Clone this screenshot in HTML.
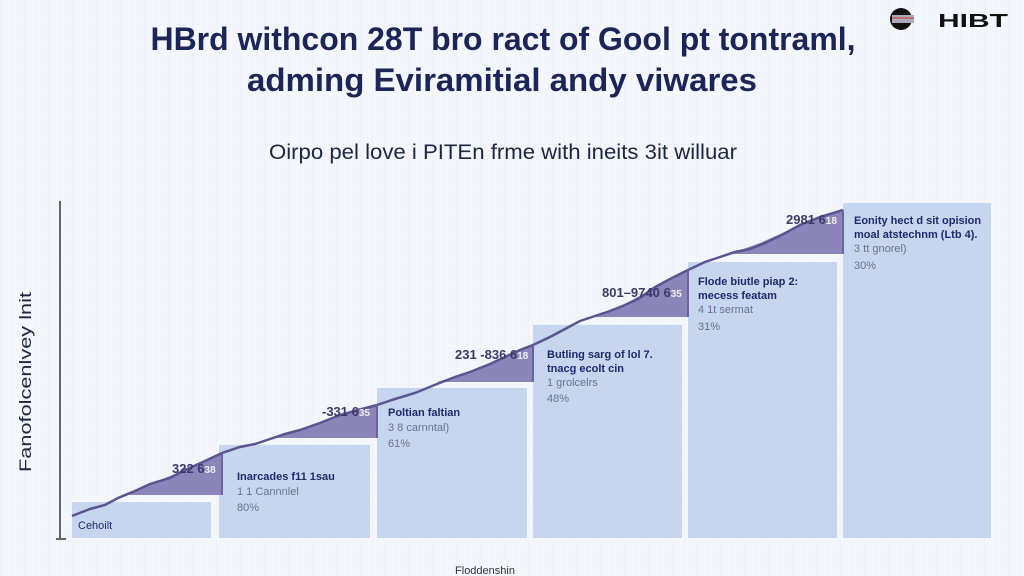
<!DOCTYPE html>
<html><head><meta charset="utf-8"><style>
html,body{margin:0;padding:0;background:#f3f6fb;}
svg{display:block;font-family:"Liberation Sans",sans-serif;}
</style></head><body>
<svg width="1024" height="576" viewBox="0 0 1024 576" xmlns="http://www.w3.org/2000/svg">
<defs>
<pattern id="g" width="12" height="12" patternUnits="userSpaceOnUse">
<path d="M12 0H0V12" fill="none" stroke="#e6ebf4" stroke-width="1"/>
</pattern>
</defs>
<rect width="1024" height="576" fill="#f3f6fb"/>
<rect width="1024" height="576" fill="url(#g)" opacity="0.6"/>

<!-- title -->
<text x="503" y="50" text-anchor="middle" font-size="32" font-weight="bold" fill="#1c2557" textLength="705" lengthAdjust="spacingAndGlyphs">HBrd withcon 28T bro ract of Gool pt tontraml,</text>
<text x="502" y="91" text-anchor="middle" font-size="32" font-weight="bold" fill="#1c2557" textLength="510" lengthAdjust="spacingAndGlyphs">adming Eviramitial andy viwares</text>
<text x="503" y="159" text-anchor="middle" font-size="21" fill="#1f2440" textLength="468" lengthAdjust="spacingAndGlyphs">Oirpo pel love i PITEn frme with ineits 3it willuar</text>

<!-- logo -->
<circle cx="901" cy="19" r="11" fill="#111"/>
<rect x="892" y="15" width="22" height="8" fill="#aab" />
<rect x="892" y="17" width="22" height="2" fill="#c44" opacity="0.6"/>
<text x="938" y="27" font-size="18" font-weight="bold" fill="#111" textLength="70" lengthAdjust="spacingAndGlyphs">HIBT</text>

<!-- axis -->
<line x1="60" y1="201" x2="60" y2="540" stroke="#666" stroke-width="2"/>
<line x1="56" y1="539" x2="66" y2="539" stroke="#666" stroke-width="2"/>
<text transform="translate(31,382) rotate(-90)" text-anchor="middle" font-size="17" fill="#1f2440" textLength="180" lengthAdjust="spacingAndGlyphs">Fanofolcenlvey lnit</text>
<text x="485" y="574" text-anchor="middle" font-size="11" fill="#333">Floddenshin</text>

<!-- bars -->
<g fill="#c6d6ef">
<rect x="72" y="502" width="139" height="36"/>
<rect x="219" y="445" width="151" height="93"/>
<rect x="377" y="388" width="150" height="150"/>
<rect x="533" y="325" width="149" height="213"/>
<rect x="688" y="262" width="149" height="276"/>
<rect x="843" y="203" width="148" height="335"/>
</g>

<!-- triangles -->
<g fill="#8c85ba">
<polygon points="122,495 150,484 185,470 222,453 222,495"/>
<polygon points="270,438 300,430 340,415 377,405 377,438"/>
<polygon points="437,382 470,372 505,357 533,345 533,382"/>
<polygon points="591,317 620,307 655,287 688,270 688,317"/>
<polygon points="729,254 760,243 800,225 843,210 843,254"/>
</g>
<polyline fill="none" stroke="#5b5491" stroke-width="2.5" points="72,516 90,509 105,505 118,498 135,491 150,484 170,478 185,470 205,461 222,453 240,447 255,444 270,439 285,434 300,430 320,423 340,415 358,410 377,405 395,399 415,393 437,384 455,377 470,372 490,364 505,357 520,350 533,345 550,337 565,329 580,321 595,316 610,311 625,305 640,298 655,287 672,278 688,270 705,262 720,257 735,252 750,249 765,243 780,236 800,225 820,217 843,210"/>
<line x1="222" y1="453" x2="222" y2="495" stroke="#6a63a0" stroke-width="2"/>
<line x1="377" y1="405" x2="377" y2="438" stroke="#6a63a0" stroke-width="2"/>
<line x1="533" y1="345" x2="533" y2="382" stroke="#6a63a0" stroke-width="2"/>
<line x1="688" y1="270" x2="688" y2="317" stroke="#6a63a0" stroke-width="2"/>
<line x1="843" y1="210" x2="843" y2="254" stroke="#6a63a0" stroke-width="2"/>

<!-- value labels -->
<g font-size="13" font-weight="bold" fill="#3a3a6a">
<text x="172" y="473">322 6<tspan fill="#eee" font-size="10">38</tspan></text>
<text x="322" y="416">-331 6<tspan fill="#eee" font-size="10">35</tspan></text>
<text x="455" y="359">231 -836 6<tspan fill="#eee" font-size="10">18</tspan></text>
<text x="602" y="297">801–9740 6<tspan fill="#eee" font-size="10">35</tspan></text>
<text x="786" y="224">2981 6<tspan fill="#eee" font-size="10">18</tspan></text>
</g>

<!-- bar texts -->
<g font-size="11" fill="#1c2a6a">
<text x="78" y="529">Cehoilt</text>
<text x="237" y="480" font-weight="bold">Inarcades f11 1sau</text>
<text x="237" y="495" fill="#6a7290">1 1 Cannnlel</text>
<text x="237" y="511" fill="#6a7290">80%</text>
<text x="388" y="416" font-weight="bold">Poltian faltian</text>
<text x="388" y="431" fill="#6a7290">3 8 carnntal)</text>
<text x="388" y="447" fill="#6a7290">61%</text>
<text x="547" y="358" font-weight="bold">Butling sarg of lol 7.</text>
<text x="547" y="372" font-weight="bold">tnacg ecolt cin</text>
<text x="547" y="386" fill="#6a7290">1 grolcelrs</text>
<text x="547" y="402" fill="#6a7290">48%</text>
<text x="698" y="285" font-weight="bold">Flode biutle piap 2:</text>
<text x="698" y="299" font-weight="bold">mecess featam</text>
<text x="698" y="313" fill="#6a7290">4 1t sermat</text>
<text x="698" y="330" fill="#6a7290">31%</text>
<text x="854" y="224" font-weight="bold">Eonity hect d sit opision</text>
<text x="854" y="238" font-weight="bold">moal atstechnm (Ltb 4).</text>
<text x="854" y="252" fill="#6a7290">3 tt gnorel)</text>
<text x="854" y="269" fill="#6a7290">30%</text>
</g>
</svg>
</body></html>
